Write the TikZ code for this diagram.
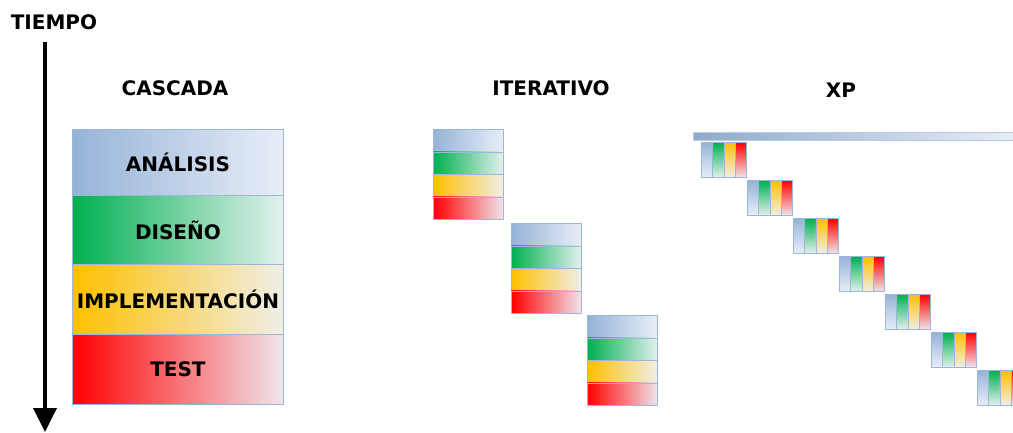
\documentclass[tikz,border=0pt]{standalone}
\usepackage{fontspec}
\setmainfont{DejaVu Sans}
\usetikzlibrary{arrows.meta}
\definecolor{bD}{HTML}{95B3D7}
\definecolor{bL}{HTML}{E9EEF8}
\definecolor{gD}{HTML}{00B050}
\definecolor{gL}{HTML}{E3F1EE}
\definecolor{yD}{HTML}{FFC000}
\definecolor{yL}{HTML}{F0EFE8}
\definecolor{rD}{HTML}{FF0000}
\definecolor{rL}{HTML}{EFE6EC}
\definecolor{bord}{HTML}{9DB7DA}
\tikzset{
  lbl/.style={font=\bfseries\fontsize{20}{23}\selectfont, text=black, inner sep=0pt},
  cas/.style={draw=bord, line width=0.9pt, minimum width=211pt, anchor=north west, inner sep=0pt,
              font=\bfseries\fontsize{20}{23}\selectfont, text=black},
  itb/.style={draw=bord, line width=0.9pt, minimum width=70pt, minimum height=22.5pt, anchor=north west, inner sep=0pt},
  xpb/.style={draw=bord, line width=0.9pt, minimum width=11.25pt, minimum height=35pt, anchor=north west, inner sep=0pt},
  hblue/.style={left color=bD, right color=bL},
  hgreen/.style={left color=gD, right color=gL},
  hyellow/.style={left color=yD, right color=yL},
  hred/.style={left color=rD, right color=rL},
  vblue/.style={top color=bD, bottom color=bL},
  vgreen/.style={top color=gD, bottom color=gL},
  vyellow/.style={top color=yD, bottom color=yL},
  vred/.style={top color=rD, bottom color=rL},
  timearrow/.style={line width=3.6pt, -{Triangle[width=23pt,length=24pt]}}
}
\begin{document}
\begin{tikzpicture}[x=1pt,y=-1pt]
\useasboundingbox (0,0) rectangle (1013,432);
% time axis
\node[lbl] (tiempo) at (54,22) {TIEMPO};
\coordinate (tA) at (45,42);
\coordinate (tB) at (45,432);
\draw[timearrow] (tA) -- (tB);
% headers
\node[lbl] (hcas) at (175,88) {CASCADA};
\node[lbl] (hit) at (551,88) {ITERATIVO};
\node[lbl] (hxp) at (841,90) {XP};
% cascada
\node[cas, hblue, minimum height=66pt] (ana) at (72,129) {ANÁLISIS};
\node[cas, hgreen, minimum height=69pt] (dis) at (72,195) {DISEÑO};
\node[cas, hyellow, minimum height=70pt] (imp) at (72,264) {IMPLEMENTACIÓN};
\node[cas, hred, minimum height=70pt] (tst) at (72,334) {TEST};
% iterativo
\foreach \i/\x/\y in {1/433/129, 2/511/223, 3/587/315} {
  \node[itb, hblue] (it\i a) at (\x,\y) {};
  \node[itb, hgreen] (it\i b) at (\x,\y+22.5) {};
  \node[itb, hyellow] (it\i c) at (\x,\y+45) {};
  \node[itb, hred] (it\i d) at (\x,\y+67.5) {};
}
% XP
\node[anchor=north west, minimum width=330pt, minimum height=8pt, inner sep=0pt,
      left color=bD!95!black, right color=bL, draw=bord!70, line width=0.5pt] (xpbar) at (693,132) {};
\foreach \i in {0,...,6} {
  \pgfmathsetmacro{\xx}{701+46*\i}
  \pgfmathsetmacro{\yy}{142+38*\i}
  \node[xpb, vblue] (xp\i a) at (\xx,\yy) {};
  \node[xpb, vgreen] (xp\i b) at (\xx+11.25,\yy) {};
  \node[xpb, vyellow] (xp\i c) at (\xx+22.5,\yy) {};
  \node[xpb, vred] (xp\i d) at (\xx+33.75,\yy) {};
}
\end{tikzpicture}
\end{document}
